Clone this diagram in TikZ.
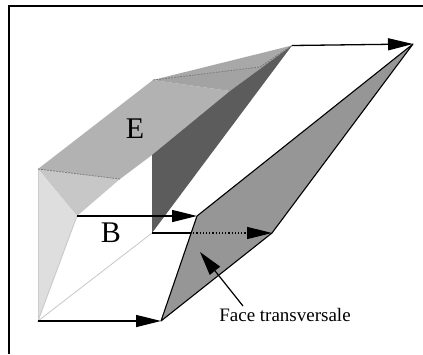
\documentclass[tikz,border=0pt]{standalone}
\usepackage{fontspec}
\setmainfont{Liberation Serif}
\usetikzlibrary{arrows.meta}
\begin{document}
\begin{tikzpicture}[x=1pt,y=-1pt,
  ridge/.style={draw=black!55,dash pattern=on 2pt off 1pt,line width=.7pt},
  arr/.style={line width=1.3pt,-{Triangle[length=25pt,width=12pt]}},
  lab/.style={font=\fontsize{30}{30}\selectfont,inner sep=0pt}]
\useasboundingbox (0,0) rectangle (423,354);
\fill[white] (0,0) rectangle (423,354);
\draw[line width=1.6pt] (9,354) -- (9,6) -- (423,6);
\coordinate (a) at (38,169);
\coordinate (b) at (38,321);
\coordinate (c) at (77,216);
\coordinate (d) at (120,179);
\coordinate (e) at (153,80);
\coordinate (f) at (292,45.5);
\coordinate (g) at (152,233);
\coordinate (h) at (152,155);
\coordinate (i) at (260,67);
\coordinate (j) at (230,91);
\coordinate (p) at (161,321);
\coordinate (q) at (197,216);
\coordinate (r) at (413,44);
\coordinate (s) at (272,233);
\coordinate (m) at (190,233);
\coordinate (tip) at (200,252);
\fill[black!30] (a) -- (e) -- (j) -- (h) -- (d) -- cycle;
\fill[black!36] (e) -- (i) -- (f) -- (j) -- cycle;
\fill[black!34] (e) -- (f) -- (i) -- cycle;
\fill[black!22] (a) -- (d) -- (c) -- cycle;
\fill[black!13] (a) -- (c) -- (b) -- cycle;
\fill[black!64] (h) -- (j) -- (f) -- (g) -- cycle;
\draw[black!22,line width=.8pt] (c) -- (b) -- (g);
\draw[black!20,line width=.6pt] (a) -- (b);
\draw[ridge] (a) -- (d);
\draw[ridge] (e) -- (i) -- (f);
\fill[black!41,draw=black,line width=1.1pt,line join=round] (p) -- (q) -- (r) -- (s) -- cycle;
\draw[arr] (b) -- (p);
\draw[arr] (c) -- (q);
\draw[arr] (f) -- (r);
\draw[line width=1.3pt] (g) -- (m);
\draw[line width=1.2pt,dotted,-{Triangle[length=25pt,width=12pt]}] (m) -- (s);
\node[inner sep=0pt,font=\fontsize{19}{19}\selectfont] (t) at (285,315) {Face transversale};
\draw[line width=1.2pt,-{Triangle[length=24pt,width=13pt]}] (243,306) -- (tip);
\node[lab] (E) at (135,129) {E};
\node[lab] (B) at (111,233) {B};
\end{tikzpicture}
\end{document}
